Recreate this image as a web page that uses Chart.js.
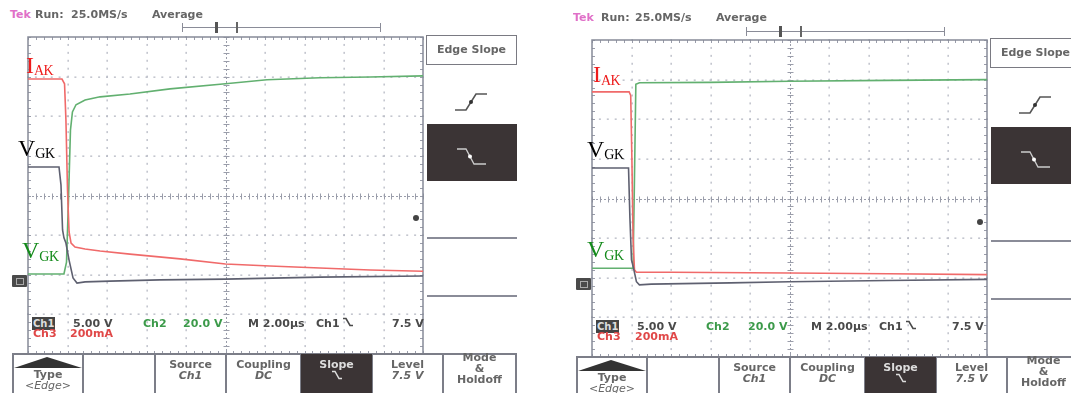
<!DOCTYPE html>
<html><head><meta charset="utf-8">
<script src="https://cdn.jsdelivr.net/npm/chart.js@4.4.1/dist/chart.umd.min.js"></script>
<style>
html,body{margin:0;padding:0;background:#fff;}
body{width:1071px;height:393px;overflow:hidden;position:relative;font-family:"DejaVu Sans",sans-serif;}
.scope{position:absolute;width:560px;height:400px;}
.t{position:absolute;white-space:nowrap;font-size:11px;font-weight:bold;color:#666;line-height:13px;}
.c{text-align:center;}
.i{font-style:italic;}
.lab{position:absolute;white-space:nowrap;font-family:"Liberation Serif",serif;font-size:24px;line-height:1;}
.lab .s{font-size:14px;position:relative;letter-spacing:-0.5px;}
.hl{position:absolute;background:#8a8c98;}
.vl{position:absolute;background:#7c7e88;}
canvas{position:absolute;left:22px;top:31px;}
.dark{position:absolute;background:#3b3435;}
.box{position:absolute;border:1.5px solid #7a7a82;box-sizing:border-box;}
.gnd{position:absolute;left:12px;top:275px;width:15px;height:12px;background:#4a4a4a;border-radius:1px;}
.gnd:after{content:"";position:absolute;left:4px;top:3px;width:6px;height:5px;border:1px solid #aaa;}
.trg{position:absolute;width:6px;height:6px;border-radius:3px;background:#444;}
</style></head>
<body>

<!-- LEFT SCOPE -->
<div class="scope" style="left:0;top:0">
  <canvas id="cL" width="407" height="329"></canvas>
  <div class="t" style="left:10px;top:8px;color:#e070c8">Tek</div>
  <div class="t" style="left:35px;top:8px">Run:</div>
  <div class="t" style="left:71px;top:8px">25.0MS/s</div>
  <div class="t" style="left:152px;top:8px">Average</div>
  <div class="hl" style="left:182px;top:27px;width:199px;height:1px"></div>
  <div class="hl" style="left:182px;top:23px;width:1px;height:9px"></div>
  <div class="hl" style="left:380px;top:23px;width:1px;height:9px"></div>
  <div class="hl" style="left:215px;top:22px;width:3px;height:11px;background:#555"></div>
  <div class="hl" style="left:236px;top:22px;width:1.5px;height:11px;background:#666"></div>

  <div class="lab" style="left:26px;top:53px;color:#ee1c1c">I<span class="s" style="top:2px">AK</span></div>
  <div class="lab" style="left:18px;top:136px;color:#000">V<span class="s" style="top:2px">GK</span></div>
  <div class="lab" style="left:22px;top:238px;color:#138a1a">V<span class="s" style="top:3px">GK</span></div>

  <div class="gnd"></div>
  <div class="trg" style="left:413px;top:215px"></div>

  <div class="t" style="left:32px;top:317px;background:#444;color:#ddd;font-size:10px;padding:0 1px">Ch1</div>
  <div class="t" style="left:73px;top:317px;color:#4a4a4a">5.00 V</div>
  <div class="t" style="left:143px;top:317px;color:#3c9a4a">Ch2</div>
  <div class="t" style="left:183px;top:317px;color:#3c9a4a">20.0 V</div>
  <div class="t" style="left:248px;top:317px;color:#4a4a4a">M 2.00µs</div>
  <div class="t" style="left:316px;top:317px;color:#4a4a4a">Ch1 <svg width="10" height="10" viewBox="0 0 10 10"><path d="M0 1.5H3L7 8.5H10" fill="none" stroke="#4a4a4a" stroke-width="1.6"/></svg></div>
  <div class="t" style="left:392px;top:317px;color:#4a4a4a">7.5 V</div>
  <div class="t" style="left:33px;top:327px;color:#e04848">Ch3</div>
  <div class="t" style="left:70px;top:327px;color:#e04848">200mA</div>

  <div class="box" style="left:426px;top:35px;width:91px;height:30px"></div>
  <div class="t c" style="left:426px;top:43px;width:91px">Edge Slope</div>
  <svg style="position:absolute;left:452px;top:88px" width="40" height="28"><path d="M3 22H14L24 6H35" fill="none" stroke="#555" stroke-width="1.6"/><circle cx="19" cy="14" r="2" fill="#333"/></svg>
  <div class="dark" style="left:427px;top:124px;width:90px;height:57px"></div>
  <svg style="position:absolute;left:452px;top:142px" width="40" height="30"><path d="M5 7H14L22 22H34" fill="none" stroke="#ccc" stroke-width="1.3"/><circle cx="18" cy="14.5" r="2" fill="#fff"/></svg>
  <div class="hl" style="left:427px;top:237px;width:90px;height:2px"></div>
  <div class="hl" style="left:427px;top:295px;width:90px;height:2px"></div>

  <div class="vl" style="left:12px;top:353px;width:504px;height:1.5px"></div>
  <div class="vl" style="left:12px;top:353px;width:1.5px;height:40px"></div>
  <div class="vl" style="left:82px;top:353px;width:1.5px;height:40px"></div>
  <div class="vl" style="left:154px;top:353px;width:1.5px;height:40px"></div>
  <div class="vl" style="left:225px;top:353px;width:1.5px;height:40px"></div>
  <div class="vl" style="left:300px;top:353px;width:1.5px;height:40px"></div>
  <div class="vl" style="left:371px;top:353px;width:1.5px;height:40px"></div>
  <div class="vl" style="left:442px;top:353px;width:1.5px;height:40px"></div>
  <div class="vl" style="left:515px;top:353px;width:1.5px;height:40px"></div>
  <div class="dark" style="left:301px;top:354px;width:71px;height:39px"></div>
  <svg style="position:absolute;left:12px;top:354px" width="72" height="16"><polygon points="2,14 35,3 70,14" fill="#333"/></svg>
  <div class="t c" style="left:13px;top:368px;width:70px">Type</div>
  <div class="t c i" style="left:13px;top:379px;width:70px;font-weight:normal">&lt;Edge&gt;</div>
  <div class="t c" style="left:155px;top:358px;width:71px">Source</div>
  <div class="t c i" style="left:155px;top:369px;width:71px">Ch1</div>
  <div class="t c" style="left:226px;top:358px;width:75px">Coupling</div>
  <div class="t c i" style="left:226px;top:369px;width:75px">DC</div>
  <div class="t c" style="left:301px;top:358px;width:71px;color:#ddd">Slope</div>
  <svg style="position:absolute;left:332px;top:370px" width="10" height="10"><path d="M0 1.5H3L7 8.5H10" fill="none" stroke="#ddd" stroke-width="1.5"/></svg>
  <div class="t c" style="left:372px;top:358px;width:71px">Level</div>
  <div class="t c i" style="left:372px;top:369px;width:71px">7.5 V</div>
  <div class="t c" style="left:443px;top:353px;width:73px;line-height:10px">Mode</div>
  <div class="t c" style="left:443px;top:364px;width:73px;line-height:10px">&amp;</div>
  <div class="t c" style="left:443px;top:375px;width:73px;line-height:10px">Holdoff</div>
</div>

<!-- RIGHT SCOPE -->
<div class="scope" style="left:564px;top:3px">
  <canvas id="cR" width="407" height="329"></canvas>
  <div class="t" style="left:9px;top:8px;color:#e070c8">Tek</div>
  <div class="t" style="left:37px;top:8px">Run:</div>
  <div class="t" style="left:71px;top:8px">25.0MS/s</div>
  <div class="t" style="left:152px;top:8px">Average</div>
  <div class="hl" style="left:182px;top:28px;width:199px;height:1px"></div>
  <div class="hl" style="left:182px;top:24px;width:1px;height:9px"></div>
  <div class="hl" style="left:380px;top:24px;width:1px;height:9px"></div>
  <div class="hl" style="left:215px;top:23px;width:3px;height:11px;background:#555"></div>
  <div class="hl" style="left:236px;top:23px;width:1.5px;height:11px;background:#666"></div>

  <div class="lab" style="left:29px;top:59px;color:#ee1c1c">I<span class="s" style="top:3px">AK</span></div>
  <div class="lab" style="left:23px;top:134px;color:#000">V<span class="s" style="top:2px">GK</span></div>
  <div class="lab" style="left:23px;top:234px;color:#138a1a">V<span class="s" style="top:3px">GK</span></div>

  <div class="gnd"></div>
  <div class="trg" style="left:413px;top:216px"></div>

  <div class="t" style="left:32px;top:317px;background:#444;color:#ddd;font-size:10px;padding:0 1px">Ch1</div>
  <div class="t" style="left:73px;top:317px;color:#4a4a4a">5.00 V</div>
  <div class="t" style="left:142px;top:317px;color:#3c9a4a">Ch2</div>
  <div class="t" style="left:184px;top:317px;color:#3c9a4a">20.0 V</div>
  <div class="t" style="left:247px;top:317px;color:#4a4a4a">M 2.00µs</div>
  <div class="t" style="left:315px;top:317px;color:#4a4a4a">Ch1 <svg width="10" height="10" viewBox="0 0 10 10"><path d="M0 1.5H3L7 8.5H10" fill="none" stroke="#4a4a4a" stroke-width="1.6"/></svg></div>
  <div class="t" style="left:388px;top:317px;color:#4a4a4a">7.5 V</div>
  <div class="t" style="left:33px;top:327px;color:#e04848">Ch3</div>
  <div class="t" style="left:71px;top:327px;color:#e04848">200mA</div>

  <div class="box" style="left:426px;top:35px;width:91px;height:30px"></div>
  <div class="t c" style="left:426px;top:43px;width:91px">Edge Slope</div>
  <svg style="position:absolute;left:452px;top:88px" width="40" height="28"><path d="M3 22H14L24 6H35" fill="none" stroke="#555" stroke-width="1.6"/><circle cx="19" cy="14" r="2" fill="#333"/></svg>
  <div class="dark" style="left:427px;top:124px;width:90px;height:57px"></div>
  <svg style="position:absolute;left:452px;top:142px" width="40" height="30"><path d="M5 7H14L22 22H34" fill="none" stroke="#ccc" stroke-width="1.3"/><circle cx="18" cy="14.5" r="2" fill="#fff"/></svg>
  <div class="hl" style="left:427px;top:237px;width:90px;height:2px"></div>
  <div class="hl" style="left:427px;top:295px;width:90px;height:2px"></div>

  <div class="vl" style="left:12px;top:353px;width:504px;height:1.5px"></div>
  <div class="vl" style="left:12px;top:353px;width:1.5px;height:40px"></div>
  <div class="vl" style="left:82px;top:353px;width:1.5px;height:40px"></div>
  <div class="vl" style="left:154px;top:353px;width:1.5px;height:40px"></div>
  <div class="vl" style="left:225px;top:353px;width:1.5px;height:40px"></div>
  <div class="vl" style="left:300px;top:353px;width:1.5px;height:40px"></div>
  <div class="vl" style="left:371px;top:353px;width:1.5px;height:40px"></div>
  <div class="vl" style="left:442px;top:353px;width:1.5px;height:40px"></div>
  <div class="dark" style="left:301px;top:354px;width:71px;height:39px"></div>
  <svg style="position:absolute;left:12px;top:354px" width="72" height="16"><polygon points="2,14 35,3 70,14" fill="#333"/></svg>
  <div class="t c" style="left:13px;top:368px;width:70px">Type</div>
  <div class="t c i" style="left:13px;top:379px;width:70px;font-weight:normal">&lt;Edge&gt;</div>
  <div class="t c" style="left:155px;top:358px;width:71px">Source</div>
  <div class="t c i" style="left:155px;top:369px;width:71px">Ch1</div>
  <div class="t c" style="left:226px;top:358px;width:75px">Coupling</div>
  <div class="t c i" style="left:226px;top:369px;width:75px">DC</div>
  <div class="t c" style="left:301px;top:358px;width:71px;color:#ddd">Slope</div>
  <svg style="position:absolute;left:332px;top:370px" width="10" height="10"><path d="M0 1.5H3L7 8.5H10" fill="none" stroke="#ddd" stroke-width="1.5"/></svg>
  <div class="t c" style="left:372px;top:358px;width:71px">Level</div>
  <div class="t c i" style="left:372px;top:369px;width:71px">7.5 V</div>
  <div class="t c" style="left:443px;top:353px;width:73px;line-height:10px">Mode</div>
  <div class="t c" style="left:443px;top:364px;width:73px;line-height:10px">&amp;</div>
  <div class="t c" style="left:443px;top:375px;width:73px;line-height:10px">Holdoff</div>
</div>

<script>
// Screen graticule: time axis in µs (2 µs/div), vertical axis in divisions
const xGridTicks = [-10, -8, -6, -4, -2, 0, 2, 4, 6, 8, 10];
const yGridTicks = [-4, -3, -2, -1, 0, 1, 2, 3, 4];

// ---- Left capture ----
const leftIakTime = [-10, -8.28, -8.15, -8.08, -8.0, -7.92, -7.82, -7.62, -7.11, -6.35, -4.84, -2.3, 0, 2.25, 4.78, 7.32, 10];
const leftIakDiv  = [2.94, 2.94, 2.82, 1.91, 0.14, -0.92, -1.20, -1.30, -1.35, -1.40, -1.48, -1.60, -1.73, -1.78, -1.83, -1.88, -1.91];

const leftVgkTime = [-10, -8.43, -8.33, -8.25, -8.18, -8.08, -7.92, -7.72, -7.52, -7.11, -5.85, -3.32, 0, 4.78, 10];
const leftVgkDiv  = [0.72, 0.72, 0.27, -0.87, -1.07, -1.20, -1.63, -2.08, -2.21, -2.18, -2.16, -2.13, -2.11, -2.06, -2.03];

const leftCh2Time = [-10, -8.18, -8.05, -7.95, -7.85, -7.75, -7.57, -7.11, -6.35, -4.84, -2.81, 0, 2.1, 4.78, 7.32, 10];
const leftCh2Div  = [-1.98, -1.98, -1.68, -0.11, 1.65, 2.11, 2.29, 2.41, 2.49, 2.56, 2.69, 2.82, 2.92, 2.97, 2.99, 3.02];

// ---- Right capture ----
const rightIakTime = [-10, -8.12, -8.04, -7.98, -7.92, -7.85, -7.75, -6, 0, 5, 10];
const rightIakDiv  = [2.69, 2.69, 2.6, 1.0, -1.0, -1.8, -1.86, -1.86, -1.88, -1.9, -1.92];

const rightVgkTime = [-10, -8.15, -8.08, -8.0, -7.9, -7.75, -7.6, -7, -3, 0, 5, 10];
const rightVgkDiv  = [0.77, 0.77, -0.5, -1.55, -1.75, -2.1, -2.18, -2.16, -2.13, -2.1, -2.07, -2.04];

const rightCh2Time = [-10, -7.92, -7.85, -7.78, -7.6, -4, 0, 5, 10];
const rightCh2Div  = [-1.76, -1.76, 0.5, 2.88, 2.92, 2.93, 2.96, 2.98, 3.0];

const colIak = '#f06a6a';
const colVgk = '#5e6070';
const colCh2 = '#62b070';

const pts = (t, v) => t.map((x, i) => ({x, y: v[i]}));

const graticule = {
  id: 'graticule',
  beforeDatasetsDraw(chart) {
    const {ctx, chartArea: a, scales: {x, y}} = chart;
    ctx.save();
    const xmin = xGridTicks[0], xmax = xGridTicks[xGridTicks.length - 1];
    const ymin = yGridTicks[0], ymax = yGridTicks[yGridTicks.length - 1];
    const xStep = (xGridTicks[1] - xGridTicks[0]) / 5;
    const yStep = (yGridTicks[1] - yGridTicks[0]) / 5;
    // dotted division lines
    ctx.fillStyle = '#b6b9c4';
    xGridTicks.forEach(t => {
      if (t === 0 || t === xmin || t === xmax) return;
      const px = Math.round(x.getPixelForValue(t));
      for (let k = 0; k <= (ymax - ymin) / yStep + 0.01; k++) {
        const py = y.getPixelForValue(ymin + k * yStep);
        ctx.fillRect(px - 0.5, py - 1, 1.3, 2);
      }
    });
    yGridTicks.forEach(v => {
      if (v === 0 || v === ymin || v === ymax) return;
      const py = Math.round(y.getPixelForValue(v));
      for (let k = 0; k <= (xmax - xmin) / xStep + 0.01; k++) {
        const px = x.getPixelForValue(xmin + k * xStep);
        ctx.fillRect(px - 1, py - 0.5, 2, 1.3);
      }
    });
    // centre cross with ticks
    ctx.strokeStyle = '#9a9daa';
    ctx.lineWidth = 1;
    const cx = Math.round(x.getPixelForValue(0)) + 0.5;
    const cy = Math.round(y.getPixelForValue(0)) + 0.5;
    ctx.setLineDash([2, 2]);
    ctx.beginPath();
    ctx.moveTo(cx, a.top); ctx.lineTo(cx, a.bottom);
    ctx.moveTo(a.left, cy); ctx.lineTo(a.right, cy);
    ctx.stroke();
    ctx.setLineDash([]);
    ctx.beginPath();
    for (let k = 0; k <= (ymax - ymin) / yStep + 0.01; k++) {
      const py = Math.round(y.getPixelForValue(ymin + k * yStep)) + 0.5;
      ctx.moveTo(cx - 3, py); ctx.lineTo(cx + 3, py);
      ctx.moveTo(a.left, py); ctx.lineTo(a.left + 3, py);
      ctx.moveTo(a.right, py); ctx.lineTo(a.right - 3, py);
    }
    for (let k = 0; k <= (xmax - xmin) / xStep + 0.01; k++) {
      const px = Math.round(x.getPixelForValue(xmin + k * xStep)) + 0.5;
      ctx.moveTo(px, cy - 3); ctx.lineTo(px, cy + 3);
      ctx.moveTo(px, a.top); ctx.lineTo(px, a.top + 3);
      ctx.moveTo(px, a.bottom); ctx.lineTo(px, a.bottom - 3);
    }
    ctx.stroke();
    // border
    ctx.strokeStyle = '#868a98';
    ctx.lineWidth = 1.5;
    ctx.strokeRect(a.left, a.top, a.right - a.left, a.bottom - a.top);
    ctx.restore();
  }
};

function scope(id, iakT, iakV, vgkT, vgkV, ch2T, ch2V) {
  const ds = (data, color) => ({data, borderColor: color, borderWidth: 1.6, pointRadius: 0, tension: 0, fill: false});
  return new Chart(document.getElementById(id), {
    type: 'line',
    data: {datasets: [
      ds(pts(vgkT, vgkV), colVgk),
      ds(pts(iakT, iakV), colIak),
      ds(pts(ch2T, ch2V), colCh2)
    ]},
    options: {
      responsive: false, animation: false, parsing: true,
      layout: {padding: 6},
      plugins: {legend: {display: false}, tooltip: {enabled: false}},
      scales: {
        x: {type: 'linear', min: xGridTicks[0], max: xGridTicks[xGridTicks.length - 1], display: false},
        y: {type: 'linear', min: yGridTicks[0], max: yGridTicks[yGridTicks.length - 1], display: false}
      }
    },
    plugins: [graticule]
  });
}

scope('cL', leftIakTime, leftIakDiv, leftVgkTime, leftVgkDiv, leftCh2Time, leftCh2Div);
scope('cR', rightIakTime, rightIakDiv, rightVgkTime, rightVgkDiv, rightCh2Time, rightCh2Div);
</script>
</body></html>
